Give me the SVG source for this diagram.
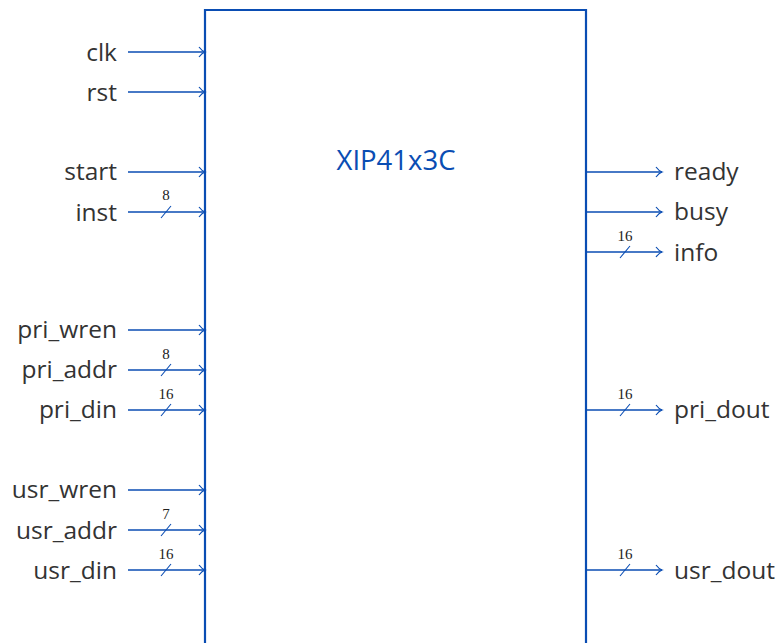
<svg xmlns="http://www.w3.org/2000/svg" width="780" height="643" viewBox="0 0 780 643">
<defs>
<marker id="ah" markerWidth="10" markerHeight="12" refX="8" refY="6" orient="auto" markerUnits="userSpaceOnUse">
<path d="M2,1 Q5,5 8,6 Q5,7 2,11" fill="none" stroke="#0a4db3" stroke-width="1.2"/>
</marker>
<style>
.w{stroke:#0a4db3;stroke-width:1.3;fill:none}
.s{stroke:#0a4db3;stroke-width:1.1;fill:none}
.l{font-family:"Open Sans","DejaVu Sans",sans-serif;font-size:24.5px;fill:#333}
.n{font-family:"Liberation Serif","DejaVu Serif",serif;font-size:15px;fill:#222;text-anchor:middle}
.li{text-anchor:end}
</style>
</defs>
<rect width="780" height="643" fill="#fff"/>
<g id="block">
<path d="M205,650 V10 H586 V650" fill="none" stroke="#0a4db3" stroke-width="2.2"/>
<text x="396" y="170" font-family="Open Sans,DejaVu Sans,sans-serif" font-size="27.5" fill="#0a4db3" text-anchor="middle">XIP41x3C</text>
</g>
<g id="connectors">
<line class="w" x1="128" y1="52" x2="205" y2="52" marker-end="url(#ah)"/>
<line class="w" x1="128" y1="92" x2="205" y2="92" marker-end="url(#ah)"/>
<line class="w" x1="128" y1="172" x2="205" y2="172" marker-end="url(#ah)"/>
<line class="w" x1="128" y1="212" x2="205" y2="212" marker-end="url(#ah)"/>
<line class="w" x1="128" y1="330" x2="205" y2="330" marker-end="url(#ah)"/>
<line class="w" x1="128" y1="370" x2="205" y2="370" marker-end="url(#ah)"/>
<line class="w" x1="128" y1="410" x2="205" y2="410" marker-end="url(#ah)"/>
<line class="w" x1="128" y1="490" x2="205" y2="490" marker-end="url(#ah)"/>
<line class="w" x1="128" y1="530" x2="205" y2="530" marker-end="url(#ah)"/>
<line class="w" x1="128" y1="570" x2="205" y2="570" marker-end="url(#ah)"/>
<line class="w" x1="586" y1="172" x2="662" y2="172" marker-end="url(#ah)"/>
<line class="w" x1="586" y1="212" x2="662" y2="212" marker-end="url(#ah)"/>
<line class="w" x1="586" y1="252" x2="662" y2="252" marker-end="url(#ah)"/>
<line class="w" x1="586" y1="410" x2="662" y2="410" marker-end="url(#ah)"/>
<line class="w" x1="586" y1="570" x2="662" y2="570" marker-end="url(#ah)"/>
<path class="s" d="M161,218 L171,206 M161,376 L171,364 M161,416 L171,404 M161,536 L171,524 M161,576 L171,564 M620,258 L630,246 M620,416 L630,404 M620,576 L630,564"/>
</g>
<g id="bus-widths">
<text class="n" x="166" y="200">8</text>
<text class="n" x="166" y="359">8</text>
<text class="n" x="166" y="399">16</text>
<text class="n" x="166" y="519">7</text>
<text class="n" x="166" y="559">16</text>
<text class="n" x="625" y="241">16</text>
<text class="n" x="625" y="399">16</text>
<text class="n" x="625" y="559">16</text>
</g>
<g id="inputs">
<text class="l li" x="117" y="61">clk</text>
<text class="l li" x="117" y="101">rst</text>
<text class="l li" x="117" y="180">start</text>
<text class="l li" x="117" y="221">inst</text>
<text class="l li" x="117" y="338">pri_wren</text>
<text class="l li" x="117" y="378">pri_addr</text>
<text class="l li" x="117" y="418">pri_din</text>
<text class="l li" x="117" y="498">usr_wren</text>
<text class="l li" x="117" y="539">usr_addr</text>
<text class="l li" x="117" y="579">usr_din</text>
</g>
<g id="outputs">
<text class="l" x="674" y="180">ready</text>
<text class="l" x="674" y="220">busy</text>
<text class="l" x="674" y="261">info</text>
<text class="l" x="674" y="418">pri_dout</text>
<text class="l" x="674" y="579">usr_dout</text>
</g>
</svg>
